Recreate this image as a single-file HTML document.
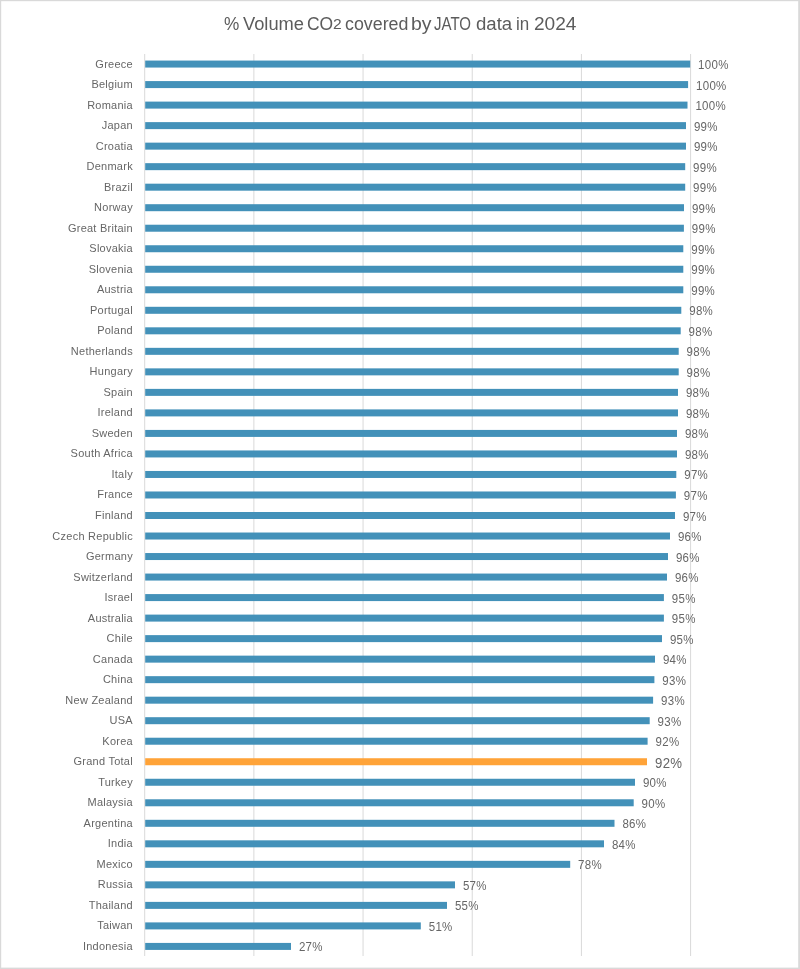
<!DOCTYPE html>
<html><head><meta charset="utf-8"><style>
html,body{margin:0;padding:0;}
body{width:800px;height:969px;position:relative;background:#fff;overflow:hidden;font-family:"Liberation Sans",sans-serif;}
.frame{position:absolute;left:0;top:0;width:798px;height:967px;border:1px solid #d9d9d9;}
.tw{position:absolute;top:13.7px;font-size:17.2px;line-height:1;color:#5c5c5c;white-space:nowrap;transform-origin:0 0;filter:grayscale(1);}
.t{position:absolute;filter:grayscale(1);left:0;width:800px;text-align:center;top:13.7px;transform:scaleY(1.11);transform-origin:50% 0;font-size:17.2px;line-height:1;color:#5c5c5c;letter-spacing:0px;white-space:nowrap;}
.t sub{font-size:13px;vertical-align:baseline;position:relative;top:0;}
.g{position:absolute;top:54px;height:902px;width:1px;background:#d9d9d9;}
.b{position:absolute;left:145.2px;height:7.0px;}
.c{position:absolute;filter:grayscale(1);transform:scaleY(1.06);right:667.1px;font-size:11px;line-height:1;color:#666666;white-space:nowrap;letter-spacing:0.25px;}
.v{position:absolute;filter:grayscale(1);transform:scaleY(1.08);line-height:1;color:#666666;white-space:nowrap;letter-spacing:0.3px;}
</style></head><body>
<svg width="800" height="969" style="position:absolute;left:0;top:0"><rect x="0" y="0" width="1.2" height="969" fill="#d9d9d9"/><rect x="0" y="0" width="800" height="1.2" fill="#d9d9d9"/><rect x="798.2" y="0" width="1.8" height="969" fill="#d9d9d9"/><rect x="0" y="967.6" width="800" height="1.4" fill="#d9d9d9"/><line x1="144.70" y1="54" x2="144.70" y2="956" stroke="#d9d9d9" stroke-width="1.0"/><line x1="253.88" y1="54" x2="253.88" y2="956" stroke="#d9d9d9" stroke-width="1.0"/><line x1="363.06" y1="54" x2="363.06" y2="956" stroke="#d9d9d9" stroke-width="1.0"/><line x1="472.24" y1="54" x2="472.24" y2="956" stroke="#d9d9d9" stroke-width="1.0"/><line x1="581.42" y1="54" x2="581.42" y2="956" stroke="#d9d9d9" stroke-width="1.0"/><line x1="690.60" y1="54" x2="690.60" y2="956" stroke="#d9d9d9" stroke-width="1.0"/><rect x="145.2" y="60.56" width="545.00" height="7.0" fill="#4391b9"/><rect x="145.2" y="81.08" width="542.90" height="7.0" fill="#4391b9"/><rect x="145.2" y="101.60" width="542.30" height="7.0" fill="#4391b9"/><rect x="145.2" y="122.12" width="540.80" height="7.0" fill="#4391b9"/><rect x="145.2" y="142.64" width="540.80" height="7.0" fill="#4391b9"/><rect x="145.2" y="163.16" width="540.00" height="7.0" fill="#4391b9"/><rect x="145.2" y="183.68" width="540.00" height="7.0" fill="#4391b9"/><rect x="145.2" y="204.20" width="538.80" height="7.0" fill="#4391b9"/><rect x="145.2" y="224.72" width="538.70" height="7.0" fill="#4391b9"/><rect x="145.2" y="245.24" width="538.10" height="7.0" fill="#4391b9"/><rect x="145.2" y="265.76" width="538.10" height="7.0" fill="#4391b9"/><rect x="145.2" y="286.28" width="538.10" height="7.0" fill="#4391b9"/><rect x="145.2" y="306.80" width="536.10" height="7.0" fill="#4391b9"/><rect x="145.2" y="327.32" width="535.50" height="7.0" fill="#4391b9"/><rect x="145.2" y="347.84" width="533.50" height="7.0" fill="#4391b9"/><rect x="145.2" y="368.36" width="533.50" height="7.0" fill="#4391b9"/><rect x="145.2" y="388.88" width="532.80" height="7.0" fill="#4391b9"/><rect x="145.2" y="409.40" width="532.80" height="7.0" fill="#4391b9"/><rect x="145.2" y="429.92" width="531.80" height="7.0" fill="#4391b9"/><rect x="145.2" y="450.44" width="531.80" height="7.0" fill="#4391b9"/><rect x="145.2" y="470.96" width="531.10" height="7.0" fill="#4391b9"/><rect x="145.2" y="491.48" width="530.70" height="7.0" fill="#4391b9"/><rect x="145.2" y="512.00" width="529.80" height="7.0" fill="#4391b9"/><rect x="145.2" y="532.52" width="524.80" height="7.0" fill="#4391b9"/><rect x="145.2" y="553.04" width="522.80" height="7.0" fill="#4391b9"/><rect x="145.2" y="573.56" width="521.80" height="7.0" fill="#4391b9"/><rect x="145.2" y="594.08" width="518.70" height="7.0" fill="#4391b9"/><rect x="145.2" y="614.60" width="518.70" height="7.0" fill="#4391b9"/><rect x="145.2" y="635.12" width="516.80" height="7.0" fill="#4391b9"/><rect x="145.2" y="655.64" width="509.80" height="7.0" fill="#4391b9"/><rect x="145.2" y="676.16" width="509.20" height="7.0" fill="#4391b9"/><rect x="145.2" y="696.68" width="507.90" height="7.0" fill="#4391b9"/><rect x="145.2" y="717.20" width="504.50" height="7.0" fill="#4391b9"/><rect x="145.2" y="737.72" width="502.40" height="7.0" fill="#4391b9"/><rect x="145.2" y="758.24" width="501.80" height="7.0" fill="#ffa338"/><rect x="145.2" y="778.76" width="489.80" height="7.0" fill="#4391b9"/><rect x="145.2" y="799.28" width="488.50" height="7.0" fill="#4391b9"/><rect x="145.2" y="819.80" width="469.30" height="7.0" fill="#4391b9"/><rect x="145.2" y="840.32" width="458.80" height="7.0" fill="#4391b9"/><rect x="145.2" y="860.84" width="425.00" height="7.0" fill="#4391b9"/><rect x="145.2" y="881.36" width="309.80" height="7.0" fill="#4391b9"/><rect x="145.2" y="901.88" width="301.80" height="7.0" fill="#4391b9"/><rect x="145.2" y="922.40" width="275.60" height="7.0" fill="#4391b9"/><rect x="145.2" y="942.92" width="145.80" height="7.0" fill="#4391b9"/></svg>
<div class="tw" style="left:223.96px;transform:scale(1.0000,1.11)">%</div>
<div class="tw" style="left:243.16px;transform:scale(1.0641,1.11)">Volume</div>
<div class="tw" style="left:306.75px;transform:scale(1.0145,1.11)">CO</div>
<div class="tw" style="left:345.32px;transform:scale(1.0364,1.11)">covered</div>
<div class="tw" style="left:411.37px;transform:scale(1.1294,1.11)">by</div>
<div class="tw" style="left:434.40px;transform:scale(0.8750,1.11)">JATO</div>
<div class="tw" style="left:476.05px;transform:scale(1.0821,1.11)">data</div>
<div class="tw" style="left:516.01px;transform:scale(0.9865,1.11)">in</div>
<div class="tw" style="left:533.52px;transform:scale(1.1102,1.11)">2024</div>
<div class="tw" style="left:333.0px;top:17.2px;font-size:13px;transform:scale(1.2,1.12)">2</div>
<div class="c" style="top:58.56px">Greece</div>
<div class="v" style="top:60.06px;left:698.10px;font-size:11.5px">100%</div>
<div class="c" style="top:79.08px">Belgium</div>
<div class="v" style="top:80.58px;left:696.00px;font-size:11.5px">100%</div>
<div class="c" style="top:99.60px">Romania</div>
<div class="v" style="top:101.10px;left:695.40px;font-size:11.5px">100%</div>
<div class="c" style="top:120.12px">Japan</div>
<div class="v" style="top:121.62px;left:693.90px;font-size:11.5px">99%</div>
<div class="c" style="top:140.64px">Croatia</div>
<div class="v" style="top:142.14px;left:693.90px;font-size:11.5px">99%</div>
<div class="c" style="top:161.16px">Denmark</div>
<div class="v" style="top:162.66px;left:693.10px;font-size:11.5px">99%</div>
<div class="c" style="top:181.68px">Brazil</div>
<div class="v" style="top:183.18px;left:693.10px;font-size:11.5px">99%</div>
<div class="c" style="top:202.20px">Norway</div>
<div class="v" style="top:203.70px;left:691.90px;font-size:11.5px">99%</div>
<div class="c" style="top:222.72px">Great Britain</div>
<div class="v" style="top:224.22px;left:691.80px;font-size:11.5px">99%</div>
<div class="c" style="top:243.24px">Slovakia</div>
<div class="v" style="top:244.74px;left:691.20px;font-size:11.5px">99%</div>
<div class="c" style="top:263.76px">Slovenia</div>
<div class="v" style="top:265.26px;left:691.20px;font-size:11.5px">99%</div>
<div class="c" style="top:284.28px">Austria</div>
<div class="v" style="top:285.78px;left:691.20px;font-size:11.5px">99%</div>
<div class="c" style="top:304.80px">Portugal</div>
<div class="v" style="top:306.30px;left:689.20px;font-size:11.5px">98%</div>
<div class="c" style="top:325.32px">Poland</div>
<div class="v" style="top:326.82px;left:688.60px;font-size:11.5px">98%</div>
<div class="c" style="top:345.84px">Netherlands</div>
<div class="v" style="top:347.34px;left:686.60px;font-size:11.5px">98%</div>
<div class="c" style="top:366.36px">Hungary</div>
<div class="v" style="top:367.86px;left:686.60px;font-size:11.5px">98%</div>
<div class="c" style="top:386.88px">Spain</div>
<div class="v" style="top:388.38px;left:685.90px;font-size:11.5px">98%</div>
<div class="c" style="top:407.40px">Ireland</div>
<div class="v" style="top:408.90px;left:685.90px;font-size:11.5px">98%</div>
<div class="c" style="top:427.92px">Sweden</div>
<div class="v" style="top:429.42px;left:684.90px;font-size:11.5px">98%</div>
<div class="c" style="top:448.44px">South Africa</div>
<div class="v" style="top:449.94px;left:684.90px;font-size:11.5px">98%</div>
<div class="c" style="top:468.96px">Italy</div>
<div class="v" style="top:470.46px;left:684.20px;font-size:11.5px">97%</div>
<div class="c" style="top:489.48px">France</div>
<div class="v" style="top:490.98px;left:683.80px;font-size:11.5px">97%</div>
<div class="c" style="top:510.00px">Finland</div>
<div class="v" style="top:511.50px;left:682.90px;font-size:11.5px">97%</div>
<div class="c" style="top:530.52px">Czech Republic</div>
<div class="v" style="top:532.02px;left:677.90px;font-size:11.5px">96%</div>
<div class="c" style="top:551.04px">Germany</div>
<div class="v" style="top:552.54px;left:675.90px;font-size:11.5px">96%</div>
<div class="c" style="top:571.56px">Switzerland</div>
<div class="v" style="top:573.06px;left:674.90px;font-size:11.5px">96%</div>
<div class="c" style="top:592.08px">Israel</div>
<div class="v" style="top:593.58px;left:671.80px;font-size:11.5px">95%</div>
<div class="c" style="top:612.60px">Australia</div>
<div class="v" style="top:614.10px;left:671.80px;font-size:11.5px">95%</div>
<div class="c" style="top:633.12px">Chile</div>
<div class="v" style="top:634.62px;left:669.90px;font-size:11.5px">95%</div>
<div class="c" style="top:653.64px">Canada</div>
<div class="v" style="top:655.14px;left:662.90px;font-size:11.5px">94%</div>
<div class="c" style="top:674.16px">China</div>
<div class="v" style="top:675.66px;left:662.30px;font-size:11.5px">93%</div>
<div class="c" style="top:694.68px">New Zealand</div>
<div class="v" style="top:696.18px;left:661.00px;font-size:11.5px">93%</div>
<div class="c" style="top:715.20px">USA</div>
<div class="v" style="top:716.70px;left:657.60px;font-size:11.5px">93%</div>
<div class="c" style="top:735.72px">Korea</div>
<div class="v" style="top:737.22px;left:655.50px;font-size:11.5px">92%</div>
<div class="c" style="top:756.24px">Grand Total</div>
<div class="v" style="top:756.74px;left:655.00px;font-size:13.2px">92%</div>
<div class="c" style="top:776.76px">Turkey</div>
<div class="v" style="top:778.26px;left:642.90px;font-size:11.5px">90%</div>
<div class="c" style="top:797.28px">Malaysia</div>
<div class="v" style="top:798.78px;left:641.60px;font-size:11.5px">90%</div>
<div class="c" style="top:817.80px">Argentina</div>
<div class="v" style="top:819.30px;left:622.40px;font-size:11.5px">86%</div>
<div class="c" style="top:838.32px">India</div>
<div class="v" style="top:839.82px;left:611.90px;font-size:11.5px">84%</div>
<div class="c" style="top:858.84px">Mexico</div>
<div class="v" style="top:860.34px;left:578.10px;font-size:11.5px">78%</div>
<div class="c" style="top:879.36px">Russia</div>
<div class="v" style="top:880.86px;left:462.90px;font-size:11.5px">57%</div>
<div class="c" style="top:899.88px">Thailand</div>
<div class="v" style="top:901.38px;left:454.90px;font-size:11.5px">55%</div>
<div class="c" style="top:920.40px">Taiwan</div>
<div class="v" style="top:921.90px;left:428.70px;font-size:11.5px">51%</div>
<div class="c" style="top:940.92px">Indonesia</div>
<div class="v" style="top:942.42px;left:298.90px;font-size:11.5px">27%</div>
</body></html>
